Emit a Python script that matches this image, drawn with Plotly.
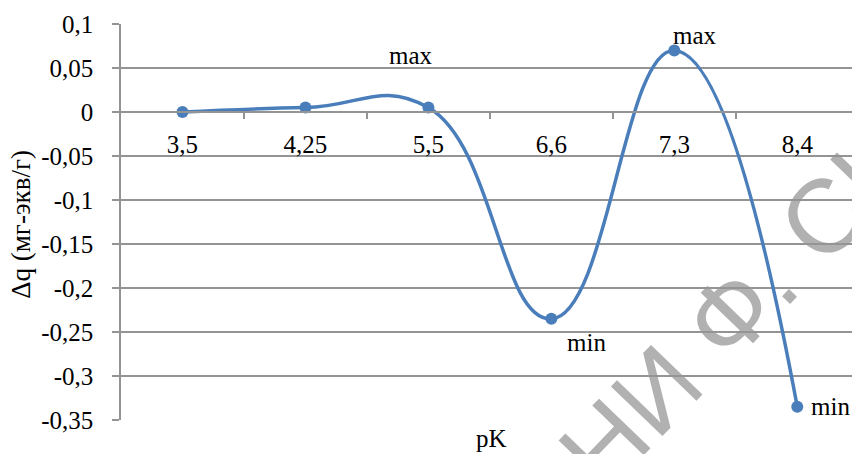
import plotly.graph_objects as go

# ---- data ----
categories = ["3,5", "4,25", "5,5", "6,6", "7,3", "8,4"]
dq_values = [0.0, 0.005, 0.005, -0.235, 0.07, -0.335]
point_labels = ["", "", "max", "min", "max", "min"]
y_tick_vals = [0.1, 0.05, 0.0, -0.05, -0.1, -0.15, -0.2, -0.25, -0.3, -0.35]
y_tick_text = ["0,1", "0,05", "0", "-0,05", "-0,1", "-0,15", "-0,2", "-0,25", "-0,3", "-0,35"]
x_title = "pK"
y_title = "Δq (мг-экв/г)"
watermark = "НИ Ф. СК"

# label offsets (pixels) relative to their data point
label_offsets = {2: (-17, 52, "center"), 3: (35, -24, "center"), 4: (21, 15, "center"), 5: (12, 0, "left")}

FONT = "Liberation Serif"
LINE_BLUE = "#4a7ebb"
GRID = "#949494"

idx = list(range(len(categories)))

fig = go.Figure()
fig.add_trace(go.Scatter(
    x=idx, y=dq_values,
    mode="lines+markers",
    line=dict(color=LINE_BLUE, width=3.5, shape="spline", smoothing=1.3),
    marker=dict(color=LINE_BLUE, size=12),
    hoverinfo="skip",
    showlegend=False,
))

annotations = []
for i, lab in enumerate(point_labels):
    if not lab:
        continue
    dx, dy, anch = label_offsets[i]
    annotations.append(dict(
        x=idx[i], y=dq_values[i], xref="x", yref="y",
        text=lab, showarrow=False, xshift=dx, yshift=dy,
        xanchor=anch, yanchor="middle",
        font=dict(family=FONT, size=25, color="black"),
    ))

annotations.append(dict(
    x=-0.137, y=0.495, xref="paper", yref="paper", text=y_title,
    showarrow=False, textangle=-90, xanchor="center", yanchor="middle",
    font=dict(family=FONT, size=27, color="black"),
))
annotations.append(dict(
    x=(491 - 121) / 731, y=(420 - 454) / 396, xref="paper", yref="paper", text=x_title,
    showarrow=False, xanchor="center", yanchor="bottom",
    font=dict(family=FONT, size=25, color="black"),
))

# watermark drawn beneath the data line, as a shape label
wx = (728 - 121) / 731
wy = (420 - 302) / 396
shapes = [dict(
    type="rect", xref="paper", yref="paper",
    x0=wx - 0.001, x1=wx + 0.001, y0=wy - 0.001, y1=wy + 0.001,
    line=dict(width=0), fillcolor="rgba(0,0,0,0)", layer="below",
    label=dict(text=watermark, textangle=-46, textposition="middle center",
               font=dict(family="Liberation Sans", size=104,
                         color="rgba(100,100,100,0.5)")),
)]

fig.update_layout(
    width=852, height=454,
    margin=dict(l=121, r=0, t=24, b=34),
    paper_bgcolor="white", plot_bgcolor="white",
    annotations=annotations,
    shapes=shapes,
    xaxis=dict(
        range=[-0.5, 5.445],
        tickmode="array", tickvals=idx, ticktext=categories,
        showgrid=False, zeroline=False,
        showline=True, linecolor=GRID, linewidth=1.5,
        ticks="",
        anchor="free", position=0.35 / 0.45,
        ticklabelstandoff=10,
        tickfont=dict(family=FONT, size=25, color="black"),
        minor=dict(tickmode="array", tickvals=[0.5, 1.5, 2.5, 3.5, 4.5],
                   ticks="outside", ticklen=6, tickcolor=GRID, tickwidth=1.5, showgrid=False),
    ),
    yaxis=dict(
        range=[-0.35, 0.1],
        tickmode="array", tickvals=y_tick_vals, ticktext=y_tick_text,
        showgrid=True, gridcolor=GRID, gridwidth=1.5,
        zeroline=False,
        showline=True, linecolor=GRID, linewidth=1.5,
        ticks="outside", ticklen=7, tickcolor=GRID, tickwidth=1.5,
        ticklabelstandoff=14,
        tickfont=dict(family=FONT, size=25, color="black"),
    ),
)

fig.write_html("out.html")
